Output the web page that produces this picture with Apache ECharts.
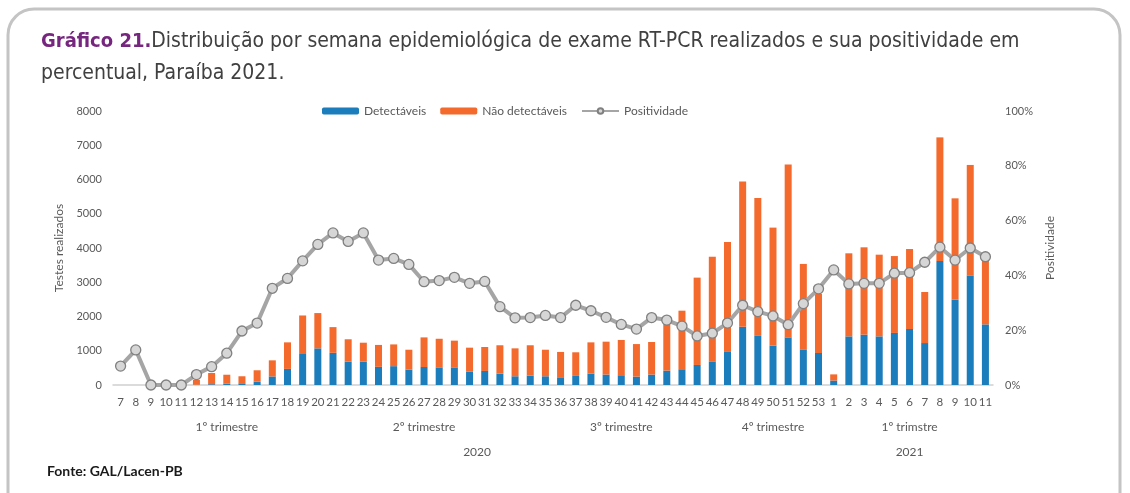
<!DOCTYPE html>
<html>
<head>
<meta charset="utf-8">
<title>Gráfico 21</title>
<script src="https://cdn.jsdelivr.net/npm/echarts@6.0.0/dist/echarts.min.js"></script>
<style>
    html, body { margin: 0; padding: 0; background: #fff; }
    #main { width: 1130px; height: 493px; }
</style>
</head>
<body>
<div id="main"></div>
<script>
    // semanas epidemiológicas: 2020 (7..53) e 2021 (1..11)
    var semanas = ['7','8','9','10','11','12','13','14','15','16','17','18','19','20',
        '21','22','23','24','25','26','27','28','29','30','31','32','33',
        '34','35','36','37','38','39','40','41','42','43','44','45','46',
        '47','48','49','50','51','52','53',
        '1','2','3','4','5','6','7','8','9','10','11'];

    var detectaveis = [0,0,0,0,0,6,23,35,50,97,250,470,905,1070,
        940,680,680,530,550,450,525,515,515,395,410,330,255,
        275,255,225,265,335,305,285,245,305,420,460,585,690,
        965,1700,1450,1150,1390,1040,935,
        130,1420,1470,1420,1520,1635,1225,3620,2490,3200,1770];

    var naoDetectaveis = [0,0,0,0,0,144,327,265,205,333,470,775,1125,1030,
        750,655,555,640,635,580,865,835,780,695,700,830,815,
        885,775,740,690,910,960,1030,950,950,1360,1710,2550,3055,
        3210,4245,4010,3445,5045,2495,1730,
        180,2425,2550,2385,2245,2335,1490,3610,2960,3225,1930];

    var positividade = [6.9,12.8,0,0,0,3.8,6.7,11.6,19.7,22.6,35.3,38.9,45.3,51.3,
        55.5,52.4,55.5,45.6,46.2,44.0,37.7,38.1,39.3,37.1,37.8,28.6,24.5,
        24.6,25.4,24.6,29.1,27.1,24.7,22.1,20.4,24.6,23.7,21.5,17.9,18.9,
        22.6,29.1,26.8,25.2,22.0,29.7,35.1,
        42.0,36.9,37.1,37.1,40.8,41.0,44.8,50.3,45.6,50.0,46.8];

    // rótulos dos níveis do eixo (índice da semana central -> texto)
    var trimestres = {7: '1º trimestre', 20: '2º trimestre', 33: '3º trimestre', 43: '4º trimestre', 52: '1º trimstre'};
    var anos = {23: '2020', 52: '2021'};
    var limitesTrimestre = [0, 1, 14, 27, 40, 47];
    var limitesAno = [0, 1, 47];

    var corTexto = '#595959';
    var fonte = 'Lato, "Open Sans", sans-serif';
    var fonteTitulo = '"DejaVu Sans Condensed", "DejaVu Sans", sans-serif';
    var corLinha = '#d0d0d0';

    var myChart = echarts.init(document.getElementById('main'));

    var option = {
        backgroundColor: '#fff',
        animation: false,
        title: {
            left: 41,
            top: 26,
            padding: 0,
            text: '{a|Gráfico 21.}{b|Distribuição por semana epidemiológica de exame RT-PCR realizados e sua positividade em}\n{b|percentual, Paraíba 2021.}',
            textStyle: {
                fontWeight: 'normal',
                rich: {
                    a: { fontFamily: fonteTitulo, fontSize: 20, fontWeight: 'bold', color: '#77267f', lineHeight: 32 },
                    b: { fontFamily: fonteTitulo, fontSize: 21, fontWeight: 'normal', color: '#404040', lineHeight: 32 }
                }
            }
        },
        legend: {
            left: 322,
            top: 105,
            padding: 0,
            itemWidth: 37,
            itemHeight: 7,
            itemGap: 14,
            textStyle: { color: corTexto, fontSize: 12, fontFamily: fonte },
            data: ['Detectáveis', 'Não detectáveis', 'Positividade']
        },
        grid: { left: 113, right: 137, top: 111, bottom: 108, outerBoundsMode: 'none' },
        xAxis: [
            {
                type: 'category',
                data: semanas,
                axisLine: { lineStyle: { color: corLinha, width: 1.5 } },
                axisTick: {
                    length: 52,
                    lineStyle: { color: corLinha, width: 1.5 },
                    interval: function (i) { return limitesTrimestre.indexOf(i) >= 0; }
                },
                axisLabel: { interval: 0, margin: 11, color: corTexto, fontSize: 11.5, fontFamily: fonte }
            },
            {
                type: 'category',
                data: semanas,
                position: 'bottom',
                axisLine: { show: false },
                axisTick: {
                    length: 78,
                    lineStyle: { color: corLinha, width: 1.5 },
                    interval: function (i) { return limitesAno.indexOf(i) >= 0; }
                },
                axisLabel: { show: false }
            },
            {
                type: 'category',
                data: semanas,
                position: 'bottom',
                axisLine: { show: false },
                axisTick: { show: false },
                axisLabel: {
                    interval: 0, margin: 36, color: corTexto, fontSize: 12, fontFamily: fonte,
                    formatter: function (v, i) { return trimestres[i] || ''; }
                }
            },
            {
                type: 'category',
                data: semanas,
                position: 'bottom',
                axisLine: { show: false },
                axisTick: { show: false },
                axisLabel: {
                    interval: 0, margin: 61, color: corTexto, fontSize: 12, fontFamily: fonte,
                    formatter: function (v, i) {
                        if (i == 23) return '{s|' + anos[i] + '}';
                        return anos[i] || '';
                    },
                    rich: { s: { padding: [0, 0, 0, 15], color: corTexto, fontSize: 12, fontFamily: fonte } }
                }
            }
        ],
        yAxis: [
            {
                type: 'value',
                min: 0, max: 8000, interval: 1000,
                name: 'Testes realizados',
                nameLocation: 'middle',
                nameGap: 40,
                nameTextStyle: { color: corTexto, fontSize: 12, fontFamily: fonte },
                axisLine: { show: false },
                axisTick: { show: false },
                splitLine: { show: false },
                axisLabel: {
                    margin: 11, color: corTexto, fontSize: 11, fontFamily: fonte,
                    formatter: function (v) { return String(v); }
                }
            },
            {
                type: 'value',
                min: 0, max: 100, interval: 20,
                name: 'Positividade',
                nameLocation: 'middle',
                nameGap: 49,
                nameTextStyle: { color: corTexto, fontSize: 12, fontFamily: fonte },
                axisLine: { show: false },
                axisTick: { show: false },
                splitLine: { show: false },
                axisLabel: { margin: 12, color: corTexto, fontSize: 11, fontFamily: fonte, formatter: '{value}%' }
            }
        ],
        series: [
            {
                name: 'Detectáveis',
                type: 'bar',
                stack: 'total',
                barWidth: 7,
                itemStyle: { color: '#1b7dbb' },
                data: detectaveis
            },
            {
                name: 'Não detectáveis',
                type: 'bar',
                stack: 'total',
                barWidth: 7,
                itemStyle: { color: '#f4692c' },
                data: naoDetectaveis
            },
            {
                name: 'Positividade',
                type: 'line',
                yAxisIndex: 1,
                symbol: 'circle',
                symbolSize: 10,
                lineStyle: { color: '#a5a5a5', width: 4 },
                itemStyle: { color: '#d6d6d6', borderColor: '#808080', borderWidth: 1.3 },
                data: positividade
            }
        ],
        graphic: [
            {
                type: 'rect',
                z: -1,
                shape: { x: 8, y: 9, width: 1112, height: 540, r: 26 },
                style: { fill: 'none', stroke: '#c4c4c4', lineWidth: 3 }
            },
            {
                type: 'text',
                left: 47,
                top: 464,
                style: { text: 'Fonte: GAL/Lacen-PB', fill: '#1a1a1a', font: 'bold 14px Lato, "Open Sans", sans-serif' }
            }
        ]
    };

    myChart.setOption(option);
</script>
</body>
</html>
